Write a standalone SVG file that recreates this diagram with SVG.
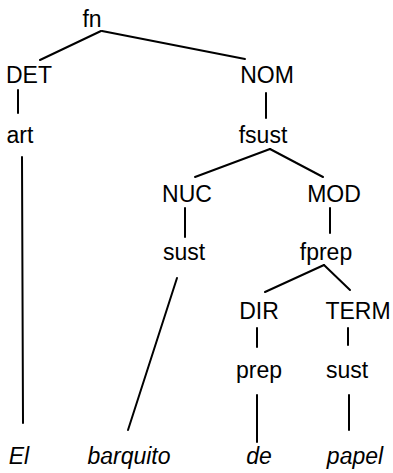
<svg xmlns="http://www.w3.org/2000/svg" width="393" height="473" viewBox="0 0 393 473">
<style>
text{font-family:"Liberation Sans",Arial,sans-serif;font-size:23px;fill:#000;text-anchor:middle}
.w{font-style:italic}
#edges line{stroke:#000;stroke-width:2;stroke-linecap:round}
</style>
<rect width="393" height="473" fill="#fff"/>
<g id="edges">
<line x1="101" y1="31" x2="40" y2="60"/>
<line x1="102" y1="31" x2="245" y2="59"/>
<line x1="18" y1="90" x2="18" y2="113"/>
<line x1="266" y1="93" x2="266" y2="118"/>
<line x1="22" y1="157" x2="23" y2="423"/>
<line x1="270" y1="149" x2="195" y2="177"/>
<line x1="270" y1="149" x2="323" y2="177"/>
<line x1="185" y1="208" x2="185" y2="237"/>
<line x1="330" y1="208" x2="330" y2="233"/>
<line x1="177" y1="278" x2="128" y2="430"/>
<line x1="324" y1="265" x2="265" y2="292"/>
<line x1="324" y1="265" x2="350" y2="290"/>
<line x1="257" y1="328" x2="257" y2="347"/>
<line x1="348" y1="328" x2="348" y2="345"/>
<line x1="257" y1="395" x2="257" y2="442"/>
<line x1="349" y1="395" x2="349" y2="430"/>
</g>
<g id="n-fn"><text x="92" y="27">fn</text></g>
<g id="n-det"><text x="29" y="83">DET</text></g>
<g id="n-nom"><text x="267" y="83">NOM</text></g>
<g id="n-art"><text x="20" y="143">art</text></g>
<g id="n-fsust"><text x="263" y="143">fsust</text></g>
<g id="n-nuc"><text x="187" y="202">NUC</text></g>
<g id="n-mod"><text x="334" y="202">MOD</text></g>
<g id="n-sust1"><text x="184" y="260">sust</text></g>
<g id="n-fprep"><text x="326" y="260">fprep</text></g>
<g id="n-dir"><text x="259" y="319">DIR</text></g>
<g id="n-term"><text x="358" y="319">TERM</text></g>
<g id="n-prep"><text x="259" y="378">prep</text></g>
<g id="n-sust2"><text x="347" y="378">sust</text></g>
<g id="w-el"><text class="w" x="19" y="464">El</text></g>
<g id="w-barquito"><text class="w" x="129" y="464">barquito</text></g>
<g id="w-de"><text class="w" x="259" y="464">de</text></g>
<g id="w-papel"><text class="w" x="355" y="464">papel</text></g>
</svg>
